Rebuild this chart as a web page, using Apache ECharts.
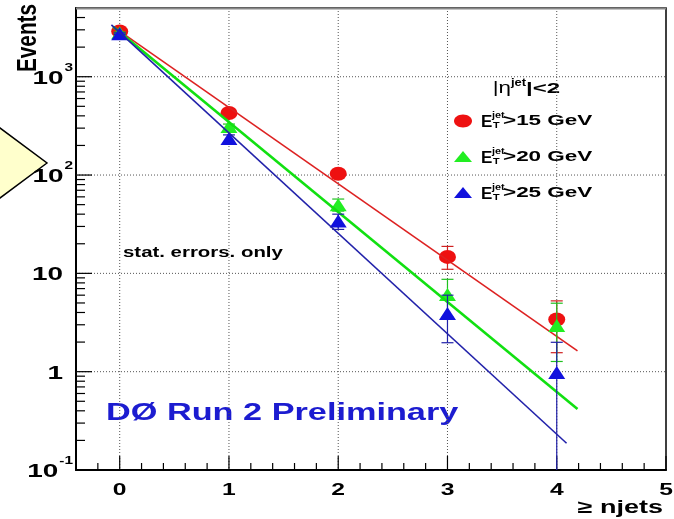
<!DOCTYPE html>
<html><head><meta charset="utf-8">
<script src="https://cdn.jsdelivr.net/npm/echarts@6/dist/echarts.min.js"></script>
<style>html,body{margin:0;padding:0;background:#fff}#c{width:674px;height:519px}</style>
</head><body><div id="c"></div>
<script>
// ---- data ----
const njets = [0, 1, 2, 3, 4];
const et15 = [2890, 427, 103, 14.7, 3.4];
const et20 = [2800, 312, 50, 6.1, 2.95];
const et25 = [2740, 235, 34, 3.9, 0.98];
const et15Low = [2840, 407, 93, 11.0, 1.56];
const et15High = [2940, 447, 113, 18.8, 5.25];
const et20Low = [2750, 294, 43, 3.6, 1.27];
const et20High = [2850, 330, 57, 8.7, 4.97];
const et25Low = [2690, 214, 28, 1.97, 0.1];
const et25High = [2790, 256, 40, 6.0, 1.99];
const fit15X = [-0.06, 4.19], fit15Y = [3230, 1.63];
const fit20X = [-0.06, 4.19], fit20Y = [3220, 0.418];
const fit25X = [-0.076, 4.09], fit25Y = [3370, 0.187];
const xTicks = [0, 1, 2, 3, 4, 5];
const xTickLabels = ['0', '1', '2', '3', '4', '5'];
const xGrid = [0, 1, 2, 3, 4];
const xMinorTicks = [-0.2, 0.2, 0.4, 0.6, 0.8, 1.2, 1.4, 1.6, 1.8, 2.2, 2.4, 2.6, 2.8, 3.2, 3.4, 3.6, 3.8, 4.2, 4.4, 4.6, 4.8];
const yTicks = [0.1, 1, 10, 100, 1000];
const yTickBase = ['10', '1', '10', '10', '10'];
const yTickExp = ['-1', '', '', '2', '3'];
const yGrid = [1, 10, 100, 1000];
const yMinorTicks = [0.2, 0.3, 0.4, 0.5, 0.6, 0.7, 0.8, 0.9, 2, 3, 4, 5, 6, 7, 8, 9, 20, 30, 40, 50, 60, 70, 80, 90, 200, 300, 400, 500, 600, 700, 800, 900, 2000, 3000, 4000];
const legendLabels = ['>15 GeV', '>20 GeV', '>25 GeV'];

const FONT = "'Liberation Sans', Arial, Helvetica, sans-serif";
const RED = '#ee1111', GREEN = '#22ee22', BLUE = '#1111dd';

const mctx = document.createElement('canvas').getContext('2d');
function textW(t, size) { mctx.font = 'bold ' + size + 'px ' + FONT; return mctx.measureText(t).width; }

function txt(x, y, text, size, opts) {
  opts = opts || {};
  return {
    type: 'text', x: x, y: y, scaleX: opts.sx || 1, rotation: opts.rot || 0, silent: true,
    style: { text: text, fill: opts.fill || '#000', fontSize: size, fontWeight: opts.weight || 'bold',
      fontFamily: FONT, align: opts.align || 'left', verticalAlign: 'middle' }
  };
}

function xGridItem(params, api) {
  const cs = params.coordSys; const px = api.coord([api.value(0), 1])[0];
  return { type: 'line', silent: true, shape: { x1: px, y1: cs.y, x2: px, y2: cs.y + cs.height },
    style: { stroke: '#555', lineWidth: 1, lineDash: [1, 2] } };
}
function yGridItem(params, api) {
  const cs = params.coordSys; const py = api.coord([0, api.value(1)])[1];
  return { type: 'line', silent: true, shape: { x1: cs.x, y1: py, x2: cs.x + cs.width, y2: py },
    style: { stroke: '#555', lineWidth: 1, lineDash: [1, 2] } };
}
function xTickItem(len) {
  return function (params, api) {
    const cs = params.coordSys; const px = api.coord([api.value(0), 1])[0]; const b = cs.y + cs.height;
    return { type: 'line', silent: true, shape: { x1: px, y1: b, x2: px, y2: b - len }, style: { stroke: '#000', lineWidth: 1.2 } };
  };
}
function yTickItem(len) {
  return function (params, api) {
    const cs = params.coordSys; const py = api.coord([0, api.value(1)])[1];
    return { type: 'line', silent: true, shape: { x1: cs.x, y1: py, x2: cs.x + len, y2: py }, style: { stroke: '#000', lineWidth: 1.2 } };
  };
}
function xLabelItem(params, api) {
  const cs = params.coordSys; const px = api.coord([api.value(0), 1])[0];
  return txt(px, cs.y + cs.height + 20, xTickLabels[params.dataIndex], 17, { sx: 1.45, align: 'center' });
}
function yLabelItem(params, api) {
  const cs = params.coordSys; const i = params.dataIndex;
  const py = api.coord([0, api.value(1)])[1];
  const exp = yTickExp[i];
  const children = [];
  let baseRight = cs.x - 13;
  if (exp) {
    const ew = textW(exp, 11) * 1.4;
    const expRight = cs.x - 3;
    baseRight = expRight - ew - 1;
    children.push(txt(expRight, py - 9, exp, 11, { sx: 1.4, align: 'right' }));
  }
  children.push(txt(baseRight, py + 2, yTickBase[i], 18, { sx: 1.55, align: 'right' }));
  return { type: 'group', children: children };
}
function errItem(color) {
  return function (params, api) {
    const cs = params.coordSys;
    const x = api.value(0), lo = api.value(1), hi = api.value(2);
    const top = api.coord([x, hi]);
    const bot = api.coord([x, lo]);
    const yb = Math.min(bot[1], cs.y + cs.height);
    const ch = [
      { type: 'line', shape: { x1: top[0], y1: top[1], x2: top[0], y2: yb }, style: { stroke: color, lineWidth: 1.2 } },
      { type: 'line', shape: { x1: top[0] - 6, y1: top[1], x2: top[0] + 6, y2: top[1] }, style: { stroke: color, lineWidth: 1.2 } }
    ];
    if (bot[1] < cs.y + cs.height - 1) {
      ch.push({ type: 'line', shape: { x1: bot[0] - 6, y1: bot[1], x2: bot[0] + 6, y2: bot[1] }, style: { stroke: color, lineWidth: 1.2 } });
    }
    return { type: 'group', silent: true, children: ch };
  };
}
function custom(data, fn, z) {
  return { type: 'custom', data: data, renderItem: fn, clip: false, silent: true, z: z || 1, animation: false };
}
function pts(ys) { return njets.map((x, i) => [x, ys[i]]); }
function errs(lo, hi) { return njets.map((x, i) => [x, lo[i], hi[i]]); }
function fitData(xs, ys) { return xs.map((x, i) => [x, ys[i]]); }

const chart = echarts.init(document.getElementById('c'), null, { renderer: 'canvas' });

const legendY = [121, 157, 193];
const legendGraphics = [];
legendGraphics.push(txt(511, 89, '|η', 16, { sx: 1.4, align: 'right', weight: 'normal' }));
legendGraphics.push(txt(511, 83, 'jet', 10, { sx: 1.3 }));
legendGraphics.push(txt(526, 89, '|<2', 15, { sx: 1.6 }));
legendY.forEach((y, k) => {
  if (k === 0) legendGraphics.push({ type: 'ellipse', shape: { cx: 463, cy: y, rx: 9, ry: 6.5 }, style: { fill: RED } });
  else legendGraphics.push({ type: 'polygon', shape: { points: [[463, y - 6], [472, y + 5], [454, y + 5]] }, style: { fill: k === 1 ? GREEN : BLUE } });
  legendGraphics.push(txt(481, y + 1, 'E', 17));
  legendGraphics.push(txt(492, y - 5, 'jet', 9, { sx: 1.2 }));
  legendGraphics.push(txt(493, y + 5, 'T', 9, { sx: 1.2 }));
  legendGraphics.push(txt(503, y, legendLabels[k], 15.5, { sx: 1.45 }));
});

chart.setOption({
  animation: false,
  backgroundColor: '#fff',
  grid: { left: 76, right: 8, top: 8, bottom: 49, show: true, borderColor: '#000', borderWidth: 1.5, backgroundColor: '#fff' },
  xAxis: { type: 'value', min: -0.4, max: 5, axisLine: { show: true, onZero: false, lineStyle: { color: '#000', width: 2 } },
    axisTick: { show: false }, axisLabel: { show: false }, splitLine: { show: false } },
  yAxis: { type: 'log', logBase: 10, min: 0.1, max: 5000, axisLine: { show: true, onZero: false, lineStyle: { color: '#000', width: 2 } },
    axisTick: { show: false }, axisLabel: { show: false }, splitLine: { show: false } },
  graphic: [
    { type: 'polygon', shape: { points: [[47, 163], [0, 198], [-47, 163], [0, 128]] }, style: { fill: '#ffffcc', stroke: '#000', lineWidth: 1.5 } },
    { type: 'line', shape: { x1: 76, y1: 8.5, x2: 666, y2: 8.5 }, style: { stroke: '#888', lineWidth: 2 }, z: 100 },
    txt(28, 38, 'Events', 28, { sx: 0.74, rot: Math.PI / 2, align: 'center' }),
    txt(663, 508, '≥ njets', 18, { sx: 1.5, align: 'right' }),
    txt(123, 253, 'stat. errors. only', 15, { sx: 1.36 }),
    txt(106, 414, 'DØ Run 2 Preliminary', 23, { sx: 1.49, fill: '#1c1cd0' })
  ].concat(legendGraphics),
  series: [
    custom(xGrid.map(v => [v, 1]), xGridItem, 1),
    custom(yGrid.map(v => [0, v]), yGridItem, 1),
    custom(xTicks.map(v => [v, 1]), xTickItem(14), 1),
    custom(xMinorTicks.map(v => [v, 1]), xTickItem(7), 1),
    custom(yTicks.map(v => [0, v]), yTickItem(16), 1),
    custom(yMinorTicks.map(v => [0, v]), yTickItem(9), 1),
    custom(xTicks.map(v => [v, 1]), xLabelItem, 1),
    custom(yTicks.map(v => [0, v]), yLabelItem, 1),
    custom(errs(et15Low, et15High), errItem('#d02020'), 2),
    { type: 'scatter', name: 'ET15', data: pts(et15), symbol: 'circle', symbolSize: [17, 14], itemStyle: { color: RED, opacity: 1 }, z: 3 },
    { type: 'line', data: fitData(fit15X, fit15Y), symbol: 'none', lineStyle: { color: '#dd2222', width: 1.6 }, z: 4 },
    custom(errs(et20Low, et20High), errItem('#20c020'), 5),
    { type: 'scatter', name: 'ET20', data: pts(et20), symbol: 'triangle', symbolSize: [17, 13], itemStyle: { color: GREEN, opacity: 1 }, z: 6 },
    { type: 'line', data: fitData(fit20X, fit20Y), symbol: 'none', lineStyle: { color: '#11e011', width: 2.6 }, z: 7 },
    custom(errs(et25Low, et25High), errItem('#2020a8'), 8),
    { type: 'scatter', name: 'ET25', data: pts(et25), symbol: 'triangle', symbolSize: [17, 13], itemStyle: { color: BLUE, opacity: 1 }, z: 9 },
    { type: 'line', data: fitData(fit25X, fit25Y), symbol: 'none', lineStyle: { color: '#2222aa', width: 1.6 }, z: 10 }
  ]
});
</script></body></html>
